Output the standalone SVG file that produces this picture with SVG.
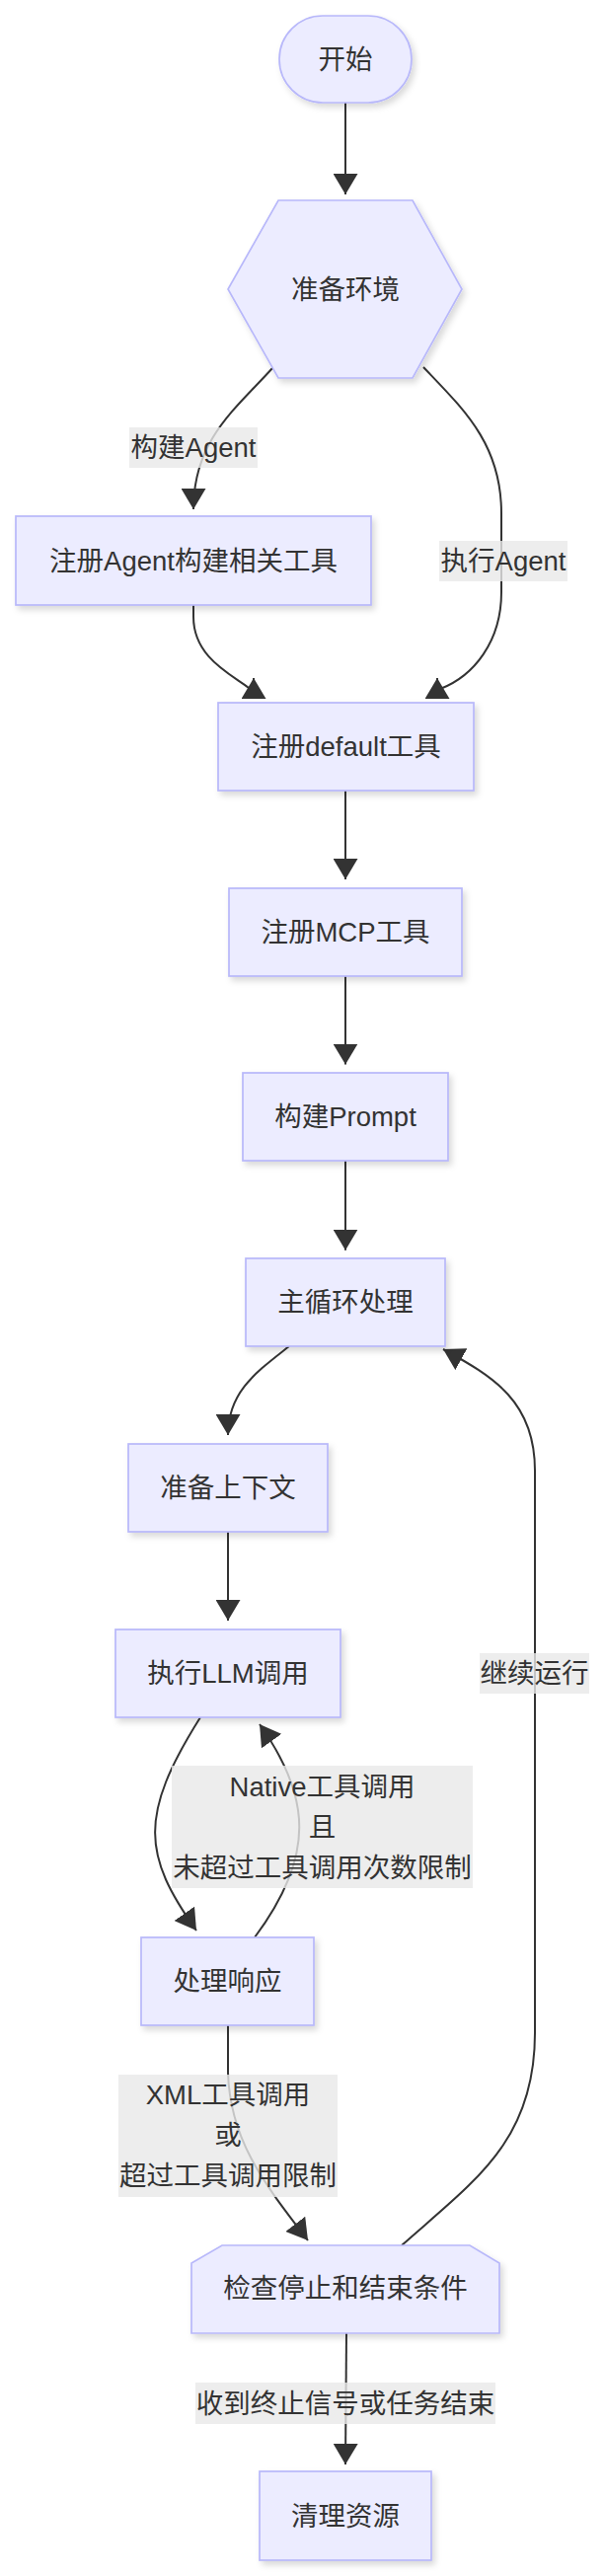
<svg xmlns="http://www.w3.org/2000/svg" width="613" height="2610" viewBox="0 0 613 2610">
<style>
.node rect,.node polygon{fill:#ECECFF;stroke:#B8B8FA;stroke-width:1.7;filter:url(#sh)}
.t{font-family:"Liberation Sans","Noto Sans CJK SC",sans-serif;font-size:27.5px;fill:#333;text-anchor:middle;dominant-baseline:central}
.edge{fill:none;stroke:#333;stroke-width:2;marker-end:url(#arr)}
.lbg{fill:#E8E8E8;fill-opacity:0.8}
</style>
<defs>
<filter id="sh" x="-20%" y="-20%" width="140%" height="150%">
<feDropShadow dx="3" dy="4" stdDeviation="3" flood-color="#000" flood-opacity="0.15"/>
</filter>
<marker id="arr" markerUnits="userSpaceOnUse" viewBox="0 0 21 25" markerWidth="21" markerHeight="25" refX="21" refY="12.5" orient="auto">
<path d="M0,0 L21,12.5 L0,25 z" fill="#333"/>
</marker>
</defs>
<g id="connectors">
<path class="edge" d="M350,104 L350,197"/>
<path class="edge" d="M276,373 C240,413 196,445 196,516"/>
<path class="edge" d="M429,372 C470,415 508,450 508,520 L508,600 C508,650 480,685 446,698 L443,707 L443,687"/>
<path class="edge" d="M196,613 L196,625 C196,665 232,682 252,697 L257,707 L257,687"/>
<path class="edge" d="M350,801 L350,891"/>
<path class="edge" d="M350,988.5 L350,1078.6"/>
<path class="edge" d="M350,1176 L350,1266.7"/>
<path class="edge" d="M293,1364 C260,1390 231,1410 231,1454"/>
<path class="edge" d="M231,1552 L231,1642"/>
<path class="edge" d="M203,1740 C140,1840 145,1880 199,1956"/>
<path class="edge" d="M258,1963 C320,1880 315,1820 263,1747"/>
<path class="edge" d="M231,2052 L231,2100 C233,2170 270,2215 312,2270"/>
<path class="edge" d="M407,2275 C480,2210 542,2170 542,2060 L542,1490 C542,1420 500,1395 449,1367"/>
<path class="edge" d="M351,2364 L350,2497"/>
</g>
<g id="edge-labels">
<g id="l1"><rect class="lbg" x="131" y="433" width="130" height="41"/><text class="t" x="196" y="453.5">构建Agent</text></g>
<g id="l2"><rect class="lbg" x="445" y="548" width="130" height="41"/><text class="t" x="510" y="568.5">执行Agent</text></g>
<g id="l3"><rect class="lbg" x="174" y="1789" width="305" height="124"/><text class="t" x="326.5" y="1810">Native工具调用</text><text class="t" x="326.5" y="1851">且</text><text class="t" x="326.5" y="1892">未超过工具调用次数限制</text></g>
<g id="l4"><rect class="lbg" x="486" y="1675" width="111" height="41"/><text class="t" x="541.5" y="1695.5">继续运行</text></g>
<g id="l5"><rect class="lbg" x="120" y="2102" width="222" height="124"/><text class="t" x="231" y="2122">XML工具调用</text><text class="t" x="231" y="2163">或</text><text class="t" x="231" y="2204">超过工具调用限制</text></g>
<g id="l6"><rect class="lbg" x="198" y="2414" width="304" height="42"/><text class="t" x="350" y="2435">收到终止信号或任务结束</text></g>
</g>
<g id="start" class="node"><rect x="283" y="16" width="134" height="88" rx="44" ry="44"/><text class="t" x="350" y="60">开始</text></g>
<g id="env" class="node"><polygon points="282,203 418,203 468,293 418,383 282,383 231,293"/><text class="t" x="350" y="293">准备环境</text></g>
<g id="agentTools" class="node"><rect x="16" y="523" width="360" height="90"/><text class="t" x="196" y="568">注册Agent构建相关工具</text></g>
<g id="defaultTools" class="node"><rect x="221" y="712" width="259" height="89"/><text class="t" x="350.5" y="756.5">注册default工具</text></g>
<g id="mcpTools" class="node"><rect x="232" y="900" width="236" height="89"/><text class="t" x="350" y="944.5">注册MCP工具</text></g>
<g id="prompt" class="node"><rect x="246" y="1087" width="208" height="89"/><text class="t" x="350" y="1131.5">构建Prompt</text></g>
<g id="mainLoop" class="node"><rect x="249" y="1275" width="202" height="89"/><text class="t" x="350" y="1319.5">主循环处理</text></g>
<g id="context" class="node"><rect x="130" y="1463" width="202" height="89"/><text class="t" x="231" y="1507.5">准备上下文</text></g>
<g id="llm" class="node"><rect x="117" y="1651" width="228" height="89"/><text class="t" x="231" y="1695.5">执行LLM调用</text></g>
<g id="response" class="node"><rect x="143" y="1963" width="175" height="89"/><text class="t" x="230.5" y="2007.5">处理响应</text></g>
<g id="check" class="node"><polygon points="225,2275 476,2275 506,2293 506,2364 194,2364 194,2293"/><text class="t" x="350" y="2318">检查停止和结束条件</text></g>
<g id="cleanup" class="node"><rect x="263" y="2504" width="174" height="90"/><text class="t" x="350" y="2549">清理资源</text></g>
</svg>
